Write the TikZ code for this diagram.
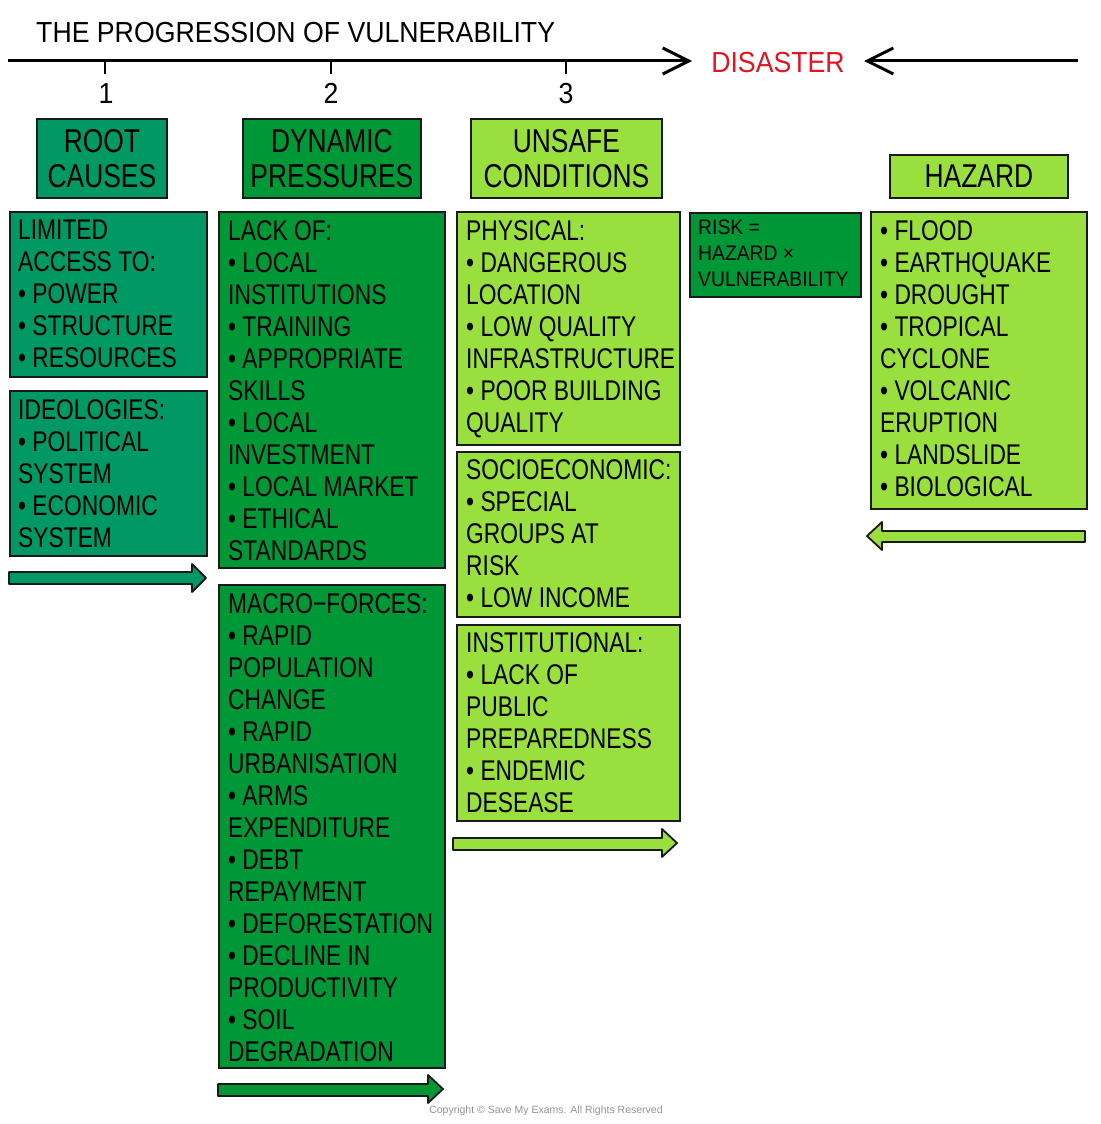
\documentclass[tikz,border=0pt]{standalone}
\usepackage{fontspec}
\setmainfont[FakeStretch=0.8]{Liberation Sans}
\newfontfamily\titlefont[FakeStretch=0.92]{Liberation Sans}
\newfontfamily\plainfont{Liberation Sans}
\usetikzlibrary{arrows.meta,calc}
\definecolor{tealc}{RGB}{0,152,100}
\definecolor{greenc}{RGB}{0,152,55}
\definecolor{limec}{RGB}{153,224,62}
\definecolor{redc}{RGB}{226,20,32}
\definecolor{edgec}{RGB}{25,25,25}
\begin{document}
\begin{tikzpicture}[x=1pt,y=-1pt,
  panel/.style={draw=edgec, line width=1.8pt, anchor=north west, inner sep=0pt},
  header/.style={panel, align=center, font=\fontsize{33}{35}\selectfont},
  txt/.style={anchor=north west, inner sep=0pt, align=left, font=\fontsize{28.5}{32}\selectfont},
  risktxt/.style={anchor=north west, inner sep=0pt, align=left, font=\titlefont\fontsize{21}{26}\selectfont},
  bigtxt/.style={inner sep=0pt, font=\titlefont\fontsize{29}{32}\selectfont},
  axisline/.style={line width=3pt, {Straight Barb[length=26pt,width=26pt,line width=3pt]}-},
  tickline/.style={line width=2.5pt},
  blockarrow/.style={draw=edgec, line width=1.8pt, line join=round}
]
\useasboundingbox (0,0) rectangle (1100,1124);
\fill[white] (0,0) rectangle (1100,1124);

% title and axis
\node[bigtxt, anchor=base west] (title) at (36,43) {THE PROGRESSION OF VULNERABILITY};
\coordinate (axL) at (8,61);
\coordinate (axR) at (692,61);
\coordinate (hzR) at (1078,61);
\coordinate (hzL) at (864,61);
\draw[axisline] (axR) -- (axL);
\draw[axisline] (hzL) -- (hzR);
\draw[tickline] (105,61) -- (105,74);
\draw[tickline] (331,61) -- (331,74);
\draw[tickline] (566,61) -- (566,74);
\node[bigtxt, anchor=base] (n1) at (106,103) {1};
\node[bigtxt, anchor=base] (n2) at (331,103) {2};
\node[bigtxt, anchor=base] (n3) at (566,103) {3};
\node[bigtxt, anchor=base, text=redc] (dis) at (778,72.5) {DISASTER};

% headers
\node[header, fill=tealc, minimum width=130pt, minimum height=79pt] (h1) at (36,118) {ROOT\\CAUSES};
\node[header, fill=greenc, minimum width=178pt, minimum height=79pt] (h2) at (242,118) {DYNAMIC\\PRESSURES};
\node[header, fill=limec, minimum width=191pt, minimum height=79pt] (h3) at (470,118) {UNSAFE\\CONDITIONS};
\node[header, fill=limec, minimum width=178pt, minimum height=43pt] (h4) at (889,154) {HAZARD};

% root causes
\node[panel, fill=tealc, minimum width=197pt, minimum height=165pt] (r1) at (9,211) {};
\node[txt] (r1t) at ($(r1.north west)+(9,9)$) {LIMITED\\ACCESS TO:\\• POWER\\• STRUCTURE\\• RESOURCES};
\node[panel, fill=tealc, minimum width=197pt, minimum height=165pt] (r2) at (9,390) {};
\node[txt] (r2t) at ($(r2.north west)+(9,9)$) {IDEOLOGIES:\\• POLITICAL\\SYSTEM\\• ECONOMIC\\SYSTEM};
\draw[blockarrow, fill=tealc] (9,572) -- (192,572) -- (192,564) -- (206,578) -- (192,592) -- (192,584) -- (9,584) -- cycle;

% dynamic pressures
\node[panel, fill=greenc, minimum width=226pt, minimum height=356pt] (d1) at (218,211) {};
\node[txt] (d1t) at ($(d1.north west)+(10,9)$) {LACK OF:\\• LOCAL\\INSTITUTIONS\\• TRAINING\\• APPROPRIATE\\SKILLS\\• LOCAL\\INVESTMENT\\• LOCAL MARKET\\• ETHICAL\\STANDARDS};
\node[panel, fill=greenc, minimum width=226pt, minimum height=483pt] (d2) at (218,584) {};
\node[txt] (d2t) at ($(d2.north west)+(10,9)$) {MACRO−FORCES:\\• RAPID\\POPULATION\\CHANGE\\• RAPID\\URBANISATION\\• ARMS\\EXPENDITURE\\• DEBT\\REPAYMENT\\• DEFORESTATION\\• DECLINE IN\\PRODUCTIVITY\\• SOIL\\DEGRADATION};
\draw[blockarrow, fill=greenc] (218,1084) -- (428,1084) -- (428,1075) -- (443,1089) -- (428,1103) -- (428,1096) -- (218,1096) -- cycle;

% unsafe conditions
\node[panel, fill=limec, minimum width=223pt, minimum height=233pt] (u1) at (456,211) {};
\node[txt] (u1t) at ($(u1.north west)+(10,9)$) {PHYSICAL:\\• DANGEROUS\\LOCATION\\• LOW QUALITY\\INFRASTRUCTURE\\• POOR BUILDING\\QUALITY};
\node[panel, fill=limec, minimum width=223pt, minimum height=165pt] (u2) at (456,451) {};
\node[txt] (u2t) at ($(u2.north west)+(10,8)$) {SOCIOECONOMIC:\\• SPECIAL\\GROUPS AT\\RISK\\• LOW INCOME};
\node[panel, fill=limec, minimum width=223pt, minimum height=196pt] (u3) at (456,624) {};
\node[txt] (u3t) at ($(u3.north west)+(10,8)$) {INSTITUTIONAL:\\• LACK OF\\PUBLIC\\PREPAREDNESS\\• ENDEMIC\\DESEASE};
\draw[blockarrow, fill=limec] (453,838) -- (662,838) -- (662,829) -- (677,843) -- (662,857) -- (662,850) -- (453,850) -- cycle;

% risk
\node[panel, fill=greenc, minimum width=171pt, minimum height=84pt] (risk) at (689,212) {};
\node[risktxt] (riskt) at ($(risk.north west)+(9,8)$) {RISK =\\HAZARD ×\\VULNERABILITY};

% hazard
\node[panel, fill=limec, minimum width=216pt, minimum height=297pt] (hz) at (870,211) {};
\node[txt] (hzt) at ($(hz.north west)+(10,9)$) {• FLOOD\\• EARTHQUAKE\\• DROUGHT\\• TROPICAL\\CYCLONE\\• VOLCANIC\\ERUPTION\\• LANDSLIDE\\• BIOLOGICAL};
\draw[blockarrow, fill=limec] (1085,531) -- (882,531) -- (882,522) -- (867,536) -- (882,550) -- (882,542) -- (1085,542) -- cycle;

% copyright
\node[inner sep=0pt, text=black!42, font=\plainfont\fontsize{10.5}{12}\selectfont] (copy) at (546,1111) {Copyright © Save My Exams. All Rights Reserved};
\end{tikzpicture}
\end{document}
